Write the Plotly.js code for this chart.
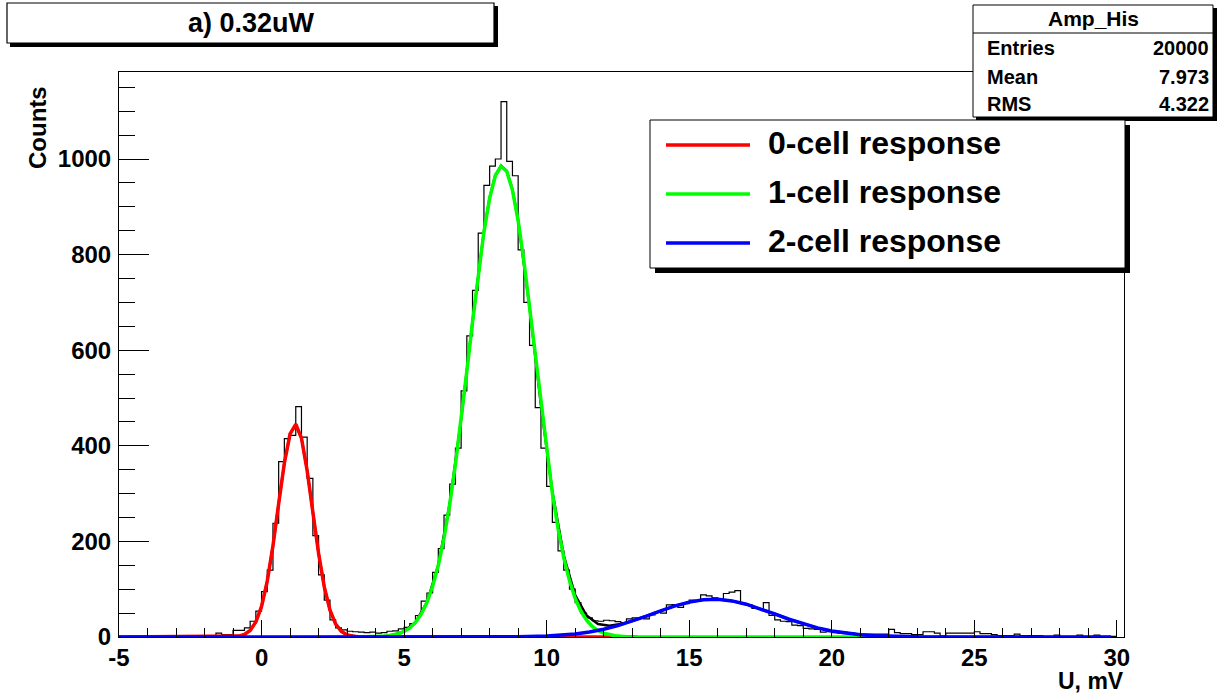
<!DOCTYPE html>
<html>
<head>
<meta charset="utf-8">
<script src="https://cdn.plot.ly/plotly-3.0.1.min.js"></script>
<style>html,body{margin:0;padding:0;background:#fff;}#chart{width:1225px;height:696px;}</style>
</head>
<body>
<div id="chart"></div>
<script>
// ---- histogram "Amp_His": 0.2 mV bins starting at -5 mV ----
const binStart = -5;
const binWidth = 0.2;
const counts = [
  0,0,0,0,0,            // -5..-4
  0,0,0,0,0,            // -4..-3
  0,0,0,0,0,            // -3..-2
  3,3,8,5,5,            // -2..-1
  14,14,19,33,54,       // -1..0
  95,140,238,367,415,   // 0..1
  422,482,418,332,212,  // 1..2
  130,77,36,19,15,      // 2..3
  12,11,10,9,10,        // 3..4
  8,9,12,13,17,         // 4..5
  20,28,45,75,92,       // 5..6
  135,185,255,320,395,  // 6..7
  515,630,725,845,945,  // 7..8
  985,1000,1120,995,965,// 8..9
  810,700,610,480,395,  // 9..10
  315,240,180,140,100,  // 10..11
  72,50,40,34,33,       // 11..12
  35,34,32,30,38,       // 12..13
  40,40,38,46,52,       // 13..14
  50,67,68,62,70,       // 14..15
  77,76,88,86,82,       // 15..16
  80,91,94,97,70,       // 16..17
  68,60,58,72,45,       // 17..18
  36,33,32,25,24,       // 18..19
  18,17,16,10,11,       // 19..20
  9,8,7,8,6,            // 20..21
  6,6,6,6,6,            // 21..22
  16,9,7,7,5,           // 22..23
  5,11,11,8,2,          // 23..24
  8,8,8,8,8,            // 24..25
  11,7,7,5,3,           // 25..26
  3,3,6,3,3,            // 26..27
  3,3,0,0,4,            // 27..28
  1,1,1,4,1,            // 28..29
  1,4,1,1,0             // 29..30
];

// ---- fit curves ----
const redX = [-5,-1.2,-1.0,-0.8,-0.6,-0.4,-0.2,0.0,0.2,0.4,0.6,0.8,1.0,1.2,1.4,1.6,1.8,2.0,2.2,2.4,2.6,2.8,3.0,3.2,3.4,3.6,13.2];
const redY = [0,0.2,0.6,1.9,5.4,13.8,31.6,64,117,191,279,364,425,445,416,348,261,175,105,56,27,11.6,4.5,1.5,0.5,0.1,0];

const greenX = [3.4,3.6,4.0,4.4,4.8,
  5.0,5.2,5.4,5.6,5.8,6.0,6.2,6.4,6.6,6.8,7.0,7.2,7.4,7.6,7.8,8.0,8.2,8.4,8.6,8.8,
  9.0,9.2,9.4,9.6,9.8,10.0,10.2,10.4,10.6,10.8,11.0,11.2,11.4,11.6,11.8,12.0,
  12.4,12.8,13.2,13.6,23.4];
const greenY = [0,0.1,0.6,2.1,6.8,
  11.5,19,30.6,47.7,72,106,150,207,278,361,455,556,659,759,848,918,965,985,974,935,
  871,787,690,587,484,388,301,227,166,118,81,54,35,22,13.5,8,
  2.5,0.7,0.2,0,0];

const blueX = [-5,7.0,8.0,9.0,10.0,
  10.5,11.0,11.5,12.0,12.5,13.0,13.5,14.0,14.5,15.0,15.5,16.0,16.5,17.0,17.5,18.0,18.5,19.0,19.5,20.0,20.5,21.0,21.5,22.0,
  23.0,24.0,25.0,29.8];
const blueY = [0,0,0.1,0.5,2.0,
  3.7,6.4,10.4,16.1,23.7,33,43.7,54.7,65,73,78,78.8,75.5,68.6,59,48.2,37.2,27.3,19,12.5,7.8,4.6,2.6,1.4,
  0.3,0.1,0,0];

const totalX = [-2.0,-1.0,-0.8,-0.6,-0.4,-0.2,0.0,0.2,0.4,0.6,0.8,1.0,1.2,1.4,1.6,1.8,2.0,2.2,2.4,2.6,2.8,3.0,
  3.4,3.8,4.2,4.6,5.0,5.4,5.8,6.2,6.6,7.0,7.4,7.8,8.0,8.2,8.4,8.6,8.8,9.0,9.4,9.8,10.2,10.6,11.0,11.4,11.8,12.2,12.6,13.0,
  13.5,14.0,14.5,15.0,15.5,16.0,16.5,17.0,17.5,18.0,18.5,19.0,19.5,20.0,20.5,21.0,21.5,22.0,23.0,24.0,30.0];
const totalY = [0,0.6,1.9,5.4,13.8,31.6,64,117,191,279,364,425,445,416,348,261,175,105,56,27,11.6,4.5,
  0.5,0.3,1.2,4,11.5,30.8,72.2,150.4,278.6,455.2,659.3,848.6,918.8,966,986,975,936,871.5,690.3,485,304,170.5,87.4,45,27.1,23.5,27,33.4,
  43.7,54.7,65,73,78,78.8,75.5,68.6,59,48.2,37.2,27.3,19,12.5,7.8,4.6,2.6,1.4,0.3,0.1,0];

// ---- axis tick labels ----
const xTickVals = [-5, 0, 5, 10, 15, 20, 25, 30];
const xTickText = ["-5", "0", "5", "10", "15", "20", "25", "30"];
const yTickVals = [0, 200, 400, 600, 800, 1000];
const yTickText = ["0", "200", "400", "600", "800", "1000"];

// ---- texts ----
const titleText = "a) 0.32uW";
const statsName = "Amp_His";
const statsLabels = ["Entries", "Mean", "RMS"];
const statsValues = ["20000", "7.973", "4.322"];
const legendLabels = ["0-cell response", "1-cell response", "2-cell response"];
const legendColors = ["#ff0000", "#00ff00", "#0000ff"];
const xTitle = "U, mV";
const yTitle = "Counts";

// ---- build ----
const histX = counts.map((c, i) => binStart + i * binWidth);
histX.push(binStart + counts.length * binWidth);
const histY = counts.slice();
histY.push(counts[counts.length - 1]);

const FONT = "Liberation Sans, Arial, Helvetica, sans-serif";
const L = 119, R = 1124, T = 72, B = 637;
const px = x => (x - L) / (R - L);
const py = y => (B - y) / (B - T);

const traces = [
  {x: histX, y: histY, type: 'scatter', mode: 'lines', line: {shape: 'hv', color: '#000', width: 1.2}, hoverinfo: 'skip'},
  {x: totalX, y: totalY, type: 'scatter', mode: 'lines', line: {color: '#000', width: 2.5}, hoverinfo: 'skip'},
  {x: redX, y: redY, type: 'scatter', mode: 'lines', line: {color: legendColors[0], width: 3.5}, hoverinfo: 'skip'},
  {x: greenX, y: greenY, type: 'scatter', mode: 'lines', line: {color: legendColors[1], width: 3.5}, hoverinfo: 'skip'},
  {x: blueX, y: blueY, type: 'scatter', mode: 'lines', line: {color: legendColors[2], width: 3.5}, hoverinfo: 'skip'}
];

function rect(x0, y0, x1, y1, fill, lineW) {
  return {type: 'rect', xref: 'paper', yref: 'paper', layer: 'above',
    x0: px(x0), x1: px(x1), y0: py(y1), y1: py(y0),
    fillcolor: fill, line: {color: '#000', width: lineW}};
}
function seg(x0, y0, x1, y1, color, w) {
  return {type: 'line', xref: 'paper', yref: 'paper', layer: 'above',
    x0: px(x0), x1: px(x1), y0: py(y0), y1: py(y1), line: {color: color, width: w}};
}
function txt(x, y, text, size, xanchor, angle) {
  return {xref: 'paper', yref: 'paper', x: px(x), y: py(y), text: text, showarrow: false,
    xanchor: xanchor, yanchor: 'middle', textangle: angle || 0, borderpad: 0,
    font: {family: FONT, size: size, color: '#000', weight: 'bold'}};
}

const shapes = [
  rect(10, 6, 498, 47, '#000', 0),
  rect(7, 3, 494, 43, '#fff', 1.2),
  rect(976, 8, 1217, 121, '#000', 0),
  rect(973, 5, 1213, 117, '#fff', 1),
  seg(973, 33, 1213, 33, '#000', 1),
  rect(655, 125, 1130, 273, '#000', 0),
  rect(650, 120, 1125, 268, '#fff', 1),
  seg(666, 145, 750, 145, legendColors[0], 3.5),
  seg(666, 194, 750, 194, legendColors[1], 3.5),
  seg(666, 243, 750, 243, legendColors[2], 3.5)
];

const annotations = [
  txt(251, 23, titleText, 27, 'center'),
  txt(1093, 19, statsName, 21, 'center'),
  txt(986, 48, statsLabels[0], 20, 'left'),
  txt(986, 77, statsLabels[1], 20, 'left'),
  txt(986, 104, statsLabels[2], 20, 'left'),
  txt(1210, 48, statsValues[0], 20, 'right'),
  txt(1210, 77, statsValues[1], 20, 'right'),
  txt(1210, 104, statsValues[2], 20, 'right'),
  txt(767, 143, legendLabels[0], 32, 'left'),
  txt(767, 192, legendLabels[1], 32, 'left'),
  txt(767, 241, legendLabels[2], 32, 'left'),
  txt(37, 128, yTitle, 24, 'center', -90),
  txt(1091, 681, xTitle, 23, 'center')
];

const layout = {
  width: 1225, height: 696,
  margin: {l: L, r: 1225 - R, t: T, b: 696 - B, pad: 0},
  paper_bgcolor: '#fff', plot_bgcolor: '#fff',
  showlegend: false,
  font: {family: FONT, color: '#000', weight: 'bold'},
  xaxis: {
    range: [-5, 30.25], showgrid: false, zeroline: false,
    showline: true, linecolor: '#000', linewidth: 1, mirror: true,
    ticks: 'inside', tickmode: 'array', tickvals: xTickVals, ticktext: xTickText,
    ticklen: 17, tickwidth: 1, tickcolor: '#000', ticklabelstandoff: -1,
    minor: {ticks: 'inside', tick0: 0, dtick: 1, ticklen: 9, tickwidth: 1, tickcolor: '#000', showgrid: false},
    tickfont: {family: FONT, size: 24, color: '#000', weight: 'bold'}
  },
  yaxis: {
    range: [0, 1182], showgrid: false, zeroline: false,
    showline: true, linecolor: '#000', linewidth: 1, mirror: true,
    ticks: 'inside', tickmode: 'array', tickvals: yTickVals, ticktext: yTickText,
    ticklen: 30, tickwidth: 1, tickcolor: '#000', ticklabelstandoff: 2,
    minor: {ticks: 'inside', tick0: 0, dtick: 50, ticklen: 16, tickwidth: 1, tickcolor: '#000', showgrid: false},
    tickfont: {family: FONT, size: 24, color: '#000', weight: 'bold'}
  },
  shapes: shapes,
  annotations: annotations
};

Plotly.newPlot('chart', traces, layout, {staticPlot: true, displayModeBar: false});
</script>
</body>
</html>
